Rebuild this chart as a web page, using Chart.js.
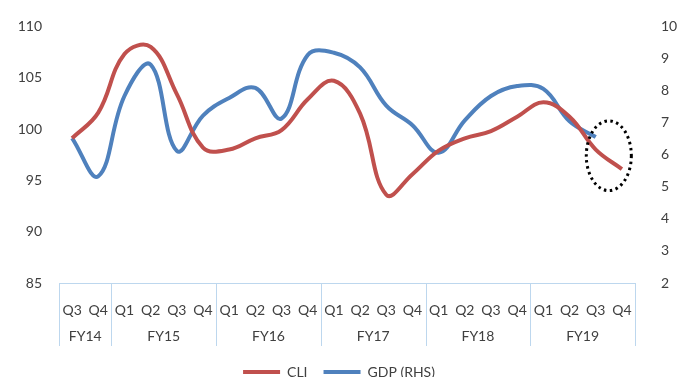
<!DOCTYPE html>
<html>
<head>
<meta charset="utf-8">
<script src="https://cdn.jsdelivr.net/npm/chart.js@4.4.1/dist/chart.umd.min.js"></script>
<style>
  html, body { margin: 0; padding: 0; background: #fff; }
  #wrap { width: 678px; height: 377px; }
</style>
</head>
<body>
<div id="wrap"><canvas id="lineChart" width="678" height="377"></canvas></div>
<script>
// quarters along the axis, grouped by fiscal year
const quarters = ['Q3', 'Q4',
    'Q1', 'Q2', 'Q3', 'Q4',
    'Q1', 'Q2', 'Q3', 'Q4',
    'Q1', 'Q2', 'Q3', 'Q4',
    'Q1', 'Q2', 'Q3', 'Q4',
    'Q1', 'Q2', 'Q3', 'Q4'];
const fiscalYears = ['FY14', 'FY15', 'FY16', 'FY17', 'FY18', 'FY19'];
const quartersPerYear = [2, 4, 4, 4, 4, 4];

// CLI on the left axis
const cliValues = [99.1, 101.6, 107.3, 108.0, 103.4, 98.2,
    98.0, 99.1, 99.9, 102.9, 104.7, 101.5,
    93.6, 95.6, 97.9, 99.1, 99.8, 101.2,
    102.6, 101.2, 98.0, 96.1];

// GDP growth on the right axis (no Q4 FY19 figure yet)
const gdpValues = [6.52, 5.33, 7.83, 8.81, 6.12, 7.22,
    7.77, 8.08, 7.13, 9.11, 9.18, 8.72,
    7.53, 6.92, 6.06, 7.07, 7.83, 8.14,
    8.05, 7.04, 6.55, null];

const leftRange = [85, 110];
const rightRange = [2, 10];

const textColor = '#404040';
const fontFamily = 'Lato, "Open Sans", sans-serif';

// separators and FY labels under the quarter ticks
const fyGroups = {
    id: 'fyGroups',
    afterDraw(chart) {
        const x = chart.scales.x;
        const ctx = chart.ctx;
        const bottom = chart.chartArea.bottom;
        const edge = i => {
            if (i <= 0) return x.left;
            if (i >= quarters.length) return x.right;
            return (x.getPixelForValue(i - 1) + x.getPixelForValue(i)) / 2;
        };
        ctx.save();
        ctx.strokeStyle = '#BDD7EE';
        ctx.lineWidth = 1;
        ctx.beginPath();
        ctx.moveTo(x.left, bottom + 0.5);
        ctx.lineTo(x.right, bottom + 0.5);
        ctx.stroke();

        ctx.fillStyle = textColor;
        ctx.font = '14px ' + fontFamily;
        ctx.textAlign = 'center';
        ctx.textBaseline = 'middle';
        let start = 0;
        fiscalYears.forEach((fy, k) => {
            const end = start + quartersPerYear[k];
            const x0 = Math.round(edge(start)) + 0.5;
            ctx.beginPath();
            ctx.moveTo(x0, bottom);
            ctx.lineTo(x0, bottom + 63);
            ctx.stroke();
            ctx.fillText(fy, (edge(start) + edge(end)) / 2, bottom + 53);
            start = end;
        });
        const xr = Math.round(x.right) + 0.5;
        ctx.beginPath();
        ctx.moveTo(xr, bottom);
        ctx.lineTo(xr, bottom + 63);
        ctx.stroke();
        ctx.restore();
    }
};

// dotted ellipse round the latest CLI readings
const highlight = {
    id: 'highlight',
    afterDatasetsDraw(chart) {
        const x = chart.scales.x;
        const y = chart.scales.y;
        const cx = (x.getPixelForValue(20) + x.getPixelForValue(21)) / 2;
        const cy = y.getPixelForValue(97.4);
        const rx = (x.getPixelForValue(21) - x.getPixelForValue(20)) * 0.86;
        const ry = Math.abs(y.getPixelForValue(97.4) - y.getPixelForValue(100.8));
        const ctx = chart.ctx;
        ctx.save();
        ctx.strokeStyle = '#000';
        ctx.lineWidth = 3;
        ctx.setLineDash([2.5, 3.5]);
        ctx.beginPath();
        ctx.ellipse(cx, cy, rx, ry, 0, 0, Math.PI * 2);
        ctx.stroke();
        ctx.restore();
    }
};

const ctx = document.getElementById('lineChart').getContext('2d');
const myChart = new Chart(ctx, {
    type: 'line',
    data: {
        labels: quarters,
        datasets: [{
            label: 'CLI',
            data: cliValues,
            yAxisID: 'y',
            borderColor: '#C0504D',
            backgroundColor: '#C0504D',
            borderWidth: 4,
            pointRadius: 0,
            tension: 0.4
        }, {
            label: 'GDP (RHS)',
            data: gdpValues,
            yAxisID: 'y1',
            borderColor: '#4F81BD',
            backgroundColor: '#4F81BD',
            borderWidth: 4,
            pointRadius: 0,
            tension: 0.4
        }]
    },
    options: {
        responsive: false,
        animation: false,
        layout: { padding: { top: 21, bottom: -12, left: 0, right: 0 } },
        plugins: {
            tooltip: { enabled: false },
            legend: {
                position: 'bottom',
                labels: {
                    boxWidth: 37,
                    boxHeight: 4,
                    padding: 16,
                    color: textColor,
                    font: { family: fontFamily, size: 14 },
                    generateLabels(chart) {
                        const items = Chart.defaults.plugins.legend.labels.generateLabels(chart);
                        items.forEach(item => { item.lineWidth = 0; });
                        return items;
                    }
                }
            }
        },
        scales: {
            x: {
                offset: true,
                grid: { display: false },
                border: { display: false },
                ticks: {
                    color: textColor,
                    padding: 11,
                    maxRotation: 0,
                    autoSkip: false,
                    font: { family: fontFamily, size: 14 }
                },
                afterFit(scale) { scale.height = 66; }
            },
            y: {
                position: 'left',
                min: leftRange[0],
                max: leftRange[1],
                grid: { display: false },
                border: { display: false },
                ticks: {
                    stepSize: 5,
                    padding: 9,
                    color: textColor,
                    font: { family: fontFamily, size: 14 }
                },
                afterFit(scale) { scale.width = 59; }
            },
            y1: {
                position: 'right',
                min: rightRange[0],
                max: rightRange[1],
                grid: { display: false },
                border: { display: false },
                ticks: {
                    stepSize: 1,
                    padding: 18,
                    color: textColor,
                    font: { family: fontFamily, size: 14 }
                },
                afterFit(scale) { scale.width = 43; }
            }
        }
    },
    plugins: [fyGroups, highlight]
});
</script>
</body>
</html>
